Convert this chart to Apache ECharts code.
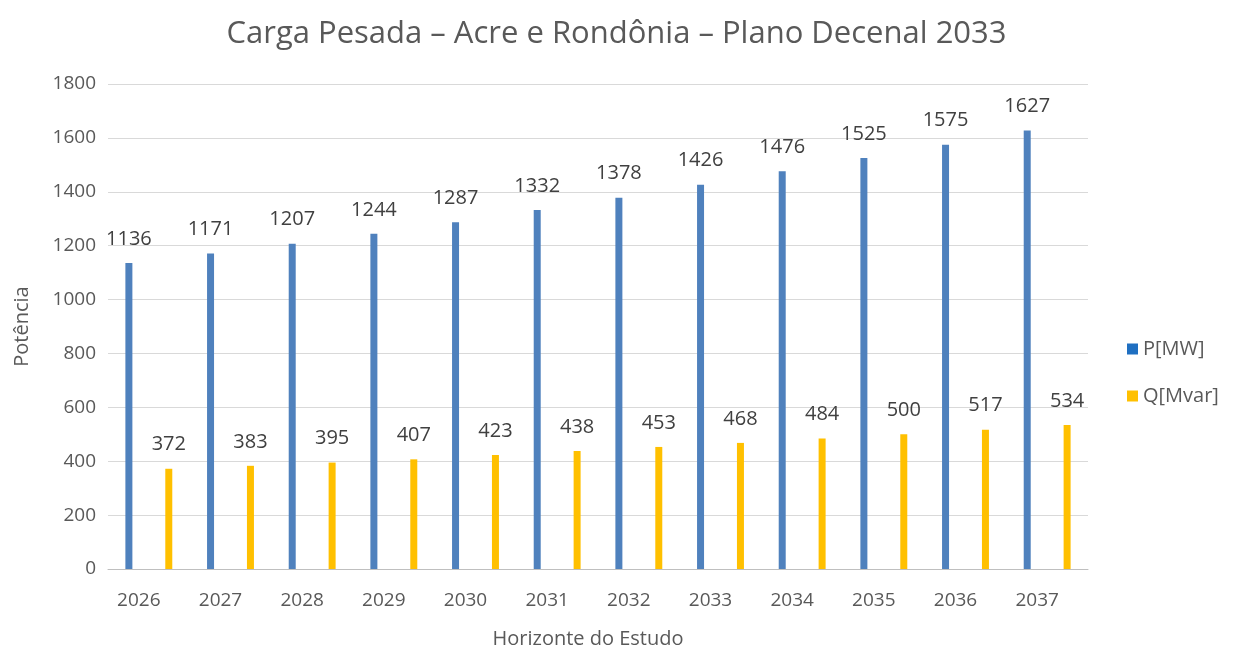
<!DOCTYPE html>
<html>
<head>
<meta charset="utf-8">
<script src="https://cdn.jsdelivr.net/npm/echarts@6/dist/echarts.min.js"></script>
<style>
  html, body {margin: 0; padding: 0; background: #fff;}
  #chart {width: 1233px; height: 650px;}
</style>
</head>
<body>
<div id="chart"></div>
<script>
const years = ['2026', '2027', '2028', '2029', '2030', '2031', '2032', '2033', '2034', '2035', '2036', '2037'];
const pMW = [1136, 1171, 1207, 1244, 1287, 1332, 1378, 1426, 1476, 1525, 1575, 1627];
const qMvar = [372, 383, 395, 407, 423, 438, 453, 468, 484, 500, 517, 534];

const font = 'Open Sans, Liberation Sans, sans-serif';
const textColor = '#595959';

const chart = echarts.init(document.getElementById('chart'));

const barLabel = {
  show: true,
  position: 'top',
  distance: 14,
  color: '#404040',
  fontSize: 20,
  fontFamily: font
};

chart.setOption({
  animation: false,
  title: {
    text: 'Carga Pesada – Acre e Rondônia – Plano Decenal 2033',
    left: 'center',
    top: 14,
    textStyle: {color: textColor, fontSize: 31, fontWeight: 'normal', fontFamily: font}
  },
  grid: {left: 108, right: 145, top: 84, bottom: 81, outerBoundsMode: 'none'},
  legend: {
    orient: 'vertical',
    left: 1122,
    top: 334,
    itemWidth: 11,
    itemHeight: 11,
    itemGap: 27,
    icon: 'rect',
    textStyle: {color: textColor, fontSize: 20, fontFamily: font},
    data: [
      {name: 'P[MW]', itemStyle: {color: '#1F6FC1'}},
      {name: 'Q[Mvar]', itemStyle: {color: '#FFC000'}}
    ]
  },
  xAxis: {
    type: 'category',
    data: years,
    name: 'Horizonte do Estudo',
    nameLocation: 'middle',
    nameGap: 60,
    nameTextStyle: {color: textColor, fontSize: 20, fontFamily: font, padding: [0, 20, 0, 0]},
    axisLine: {lineStyle: {color: '#BFBFBF', width: 1}},
    axisTick: {show: false},
    axisLabel: {color: textColor, fontSize: 19, fontFamily: font, margin: 22, padding: [0, 20, 0, 0]}
  },
  yAxis: {
    type: 'value',
    min: 0,
    max: 1800,
    interval: 200,
    name: 'Potência',
    nameLocation: 'middle',
    nameGap: 76,
    nameTextStyle: {color: textColor, fontSize: 20, fontFamily: font},
    axisLine: {show: false},
    axisTick: {show: false},
    axisLabel: {color: textColor, fontSize: 19, fontFamily: font, margin: 12, formatter: (v) => String(v)},
    splitLine: {lineStyle: {color: '#D9D9D9', width: 1}}
  },
  series: [
    {
      name: 'P[MW]',
      type: 'bar',
      data: pMW,
      barWidth: 7,
      barGap: '470%',
      itemStyle: {color: '#4F81BD'},
      label: barLabel
    },
    {
      name: 'Q[Mvar]',
      type: 'bar',
      data: qMvar,
      barWidth: 7,
      itemStyle: {color: '#FFC000'},
      label: barLabel
    }
  ]
});
</script>
</body>
</html>
